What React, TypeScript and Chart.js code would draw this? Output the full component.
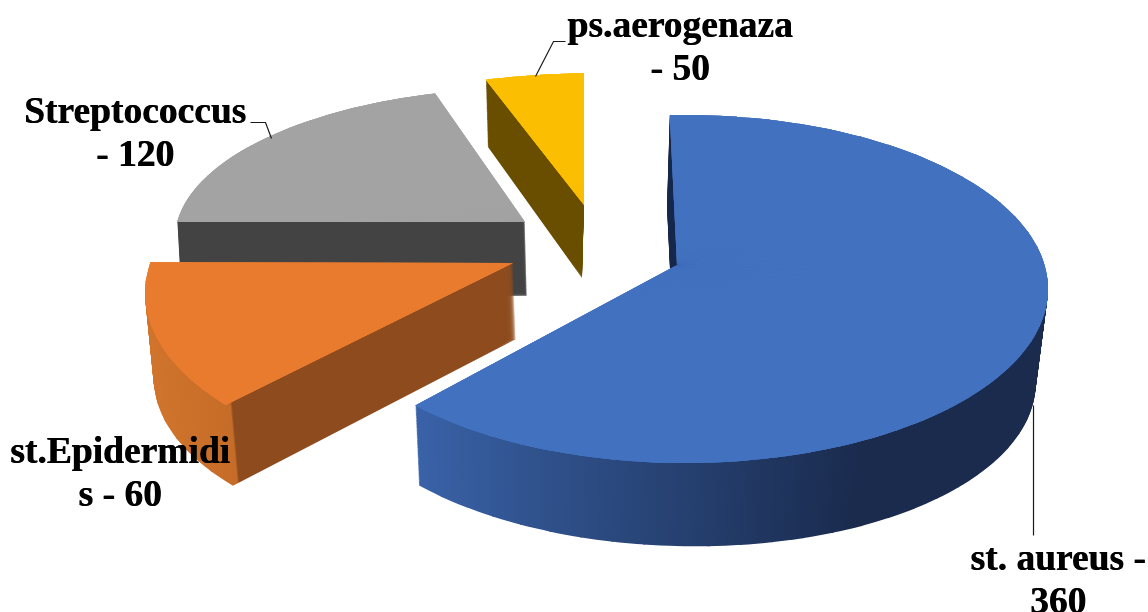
import React, { useEffect, useRef } from "react";
import { Chart, registerables } from "chart.js";

Chart.register(...registerables);

const categories = ["st. aureus", "st.Epidermidis", "Streptococcus", "ps.aerogenaza"];
const values = [360, 60, 120, 50];
const topColors = ["#4271BF", "#E97B2F", "#A3A3A3", "#FBBE00"];

// How each flat slice is laid onto the tilted page: the point the slice comes to,
// the ellipse its rim follows and the sweep on that ellipse,
// then depth, drift, taper and tilt of the extrusion.
const sliceViews = [
  { ax: 677, ay: 265, cx: 685, cy: 289, rx: 363, ry: 174, p0: -2.4, p1: 228, depth: 88, drift: -3, taper: 0.025, tilt: 0.018, flatBelow: 90 },
  { ax: 513, ay: 263, cx: 516, cy: 293, rx: 371, ry: 180, p0: 231.5, p1: 279.8, depth: 76, drift: 3, taper: 0.015, tilt: -0.024, flatBelow: 0 },
  { ax: 525, ay: 222, cx: 530, cy: 239, rx: 355, ry: 151, p0: 276.5, p1: 344.5, depth: 74, drift: 2, taper: 0.006, tilt: 0, flatBelow: 0 },
  { ax: 584, ay: 205, cx: 600, cy: 235, rx: 400, ry: 162, p0: 343.4, p1: 357.7, depth: 73, drift: -2, taper: 0.04, tilt: 0.12, flatBelow: 0 },
];
const sideStops: [number, string][][] = [
  [[415, "#3A62A8"], [560, "#2E4F88"], [860, "#1A2B4E"], [1048, "#1A2B4E"]],
  [[150, "#D0742C"], [230, "#C56C28"], [232, "#8E4C1E"], [520, "#8E4C1E"]],
  [[170, "#434343"], [530, "#434343"]],
  [[480, "#6A4E00"], [590, "#6A4E00"]],
];
const flatSide = "#1A2B4E";

const labelLines = [
  ["st. aureus -", "360"],
  ["st.Epidermidi", "s - 60"],
  ["Streptococcus", "- 120"],
  ["ps.aerogenaza", "- 50"],
];
const labelPlaces = [
  { x: 1058, y: 570 },
  { x: 120, y: 463 },
  { x: 135, y: 123 },
  { x: 680, y: 37 },
];
const leaderPaths = [
  [[1033, 405], [1033, 535]],
  [],
  [[250, 122], [265, 122], [271, 138]],
  [[535, 76], [553, 41], [565, 41]],
];

const RAD = Math.PI / 180;

const pie3d = {
  id: "pie3d",
  beforeDatasetDraw(chart: any) {
    const ctx = chart.ctx;
    const arcs = chart.getDatasetMeta(0).data;
    for (let i = arcs.length - 1; i >= 0; i--) {
      const arc = arcs[i];
      const v = sliceViews[i];
      const R = arc.outerRadius;
      const span = arc.endAngle - arc.startAngle;
      const count = Math.max(2, Math.ceil(span / (5 * RAD)));
      const rim = (frac: number) => {
        const p = (v.p0 + (v.p1 - v.p0) * frac) * RAD;
        return [v.cx + v.rx * Math.sin(p) - v.ax, v.cy - v.ry * Math.cos(p) - v.ay];
      };
      // each narrow wedge of the library's arc gets the affine map that puts
      // its two rim ends on the page ellipse
      const wedges = [];
      for (let w = 0; w < count; w++) {
        const a0 = arc.startAngle + (span * w) / count;
        const a1 = arc.startAngle + (span * (w + 1)) / count;
        const [x0, y0] = [Math.cos(a0), Math.sin(a0)];
        const [x1, y1] = [Math.cos(a1), Math.sin(a1)];
        const [p0x, p0y] = rim(w / count);
        const [p1x, p1y] = rim((w + 1) / count);
        const det = x0 * y1 - y0 * x1;
        const ux = (p0x * y1 - y0 * p1x) / det;
        const vx = (x0 * p1x - x1 * p0x) / det;
        const uy = (p0y * y1 - y0 * p1y) / det;
        const vy = (x0 * p1y - x1 * p0y) / det;
        const mid = ((a0 + a1) / 2 + Math.PI / 2) / RAD;
        wedges.push({ a0, a1, ux, uy, vx, vy, mid, first: w === 0, last: w === count - 1 });
      }
      const paint = (f: any, t: number, fill: any) => {
        const k = 1 - v.taper * t;
        const clone = Object.create(arc);
        clone.options = { ...arc.options, backgroundColor: fill, borderWidth: 0, offset: 0 };
        clone.startAngle = f.first ? f.a0 : f.a0 - 0.003;
        clone.endAngle = f.last ? f.a1 : f.a1 + 0.003;
        clone.circumference = clone.endAngle - clone.startAngle;
        ctx.save();
        ctx.setTransform(
          (f.ux / R) * k, ((f.uy + v.tilt * t * f.ux) / R) * k,
          (f.vx / R) * k, ((f.vy + v.tilt * t * f.vx) / R) * k,
          v.ax + v.drift * t, v.ay + v.depth * t
        );
        ctx.translate(-arc.x, -arc.y);
        clone.draw(ctx);
        ctx.restore();
      };
      const stops = sideStops[i];
      const first = stops[0][0];
      const last = stops[stops.length - 1][0];
      const sideFill = (f: any) => {
        if (f.mid < v.flatBelow) return flatSide;
        const n = f.ux * f.ux + f.vx * f.vx;
        const at = (px: number) => {
          const s = px - v.ax;
          return [arc.x + (R * s * f.ux) / n, arc.y + (R * s * f.vx) / n];
        };
        const [x0, y0] = at(first);
        const [x1, y1] = at(last);
        const grad = ctx.createLinearGradient(x0, y0, x1, y1);
        stops.forEach(([p, c]) => grad.addColorStop((p - first) / (last - first), c));
        return grad;
      };
      const fills = wedges.map(sideFill);
      for (let d = v.depth; d > 0; d -= 1) {
        wedges.forEach((f: any, j: number) => paint(f, d / v.depth, fills[j]));
      }
      for (let pass = 0; pass < 3; pass++) {
        wedges.forEach((f: any) => paint(f, 0, topColors[i]));
      }
    }
    return false;
  },
  afterDatasetsDraw(chart: any) {
    const ctx = chart.ctx;
    ctx.save();
    ctx.strokeStyle = "#1a1a1a";
    ctx.lineWidth = 1.2;
    leaderPaths.forEach((path) => {
      if (!path.length) return;
      ctx.beginPath();
      path.forEach(([x, y], j) => (j ? ctx.lineTo(x + 0.5, y + 0.5) : ctx.moveTo(x + 0.5, y + 0.5)));
      ctx.stroke();
    });
    ctx.fillStyle = "#000000";
    ctx.font = 'bold 37.5px "Liberation Serif"';
    ctx.textAlign = "center";
    ctx.textBaseline = "alphabetic";
    ctx.shadowColor = "#000000";
    ctx.shadowOffsetX = 0.6;
    ctx.shadowBlur = 0;
    labelLines.forEach((lines, i) => {
      lines.forEach((line, j) => ctx.fillText(line, labelPlaces[i].x, labelPlaces[i].y + j * 43));
    });
    ctx.restore();
  },
};

export default function App() {
  const ref = useRef<HTMLCanvasElement>(null);
  useEffect(() => {
    const chart = new Chart(ref.current as HTMLCanvasElement, {
      type: "pie",
      data: {
        labels: categories,
        datasets: [{ data: values, backgroundColor: topColors, borderWidth: 0 }],
      },
      options: {
        animation: false,
        responsive: false,
        plugins: { legend: { display: false }, tooltip: { enabled: false } },
      },
      plugins: [pie3d],
    } as any);
    return () => chart.destroy();
  }, []);
  return (
    <div style={{ position: "absolute", left: 0, top: 0, width: 1148, height: 612, background: "#fff", overflow: "hidden" }}>
      <canvas ref={ref} width={1148} height={612} style={{ display: "block" }} />
    </div>
  );
}
